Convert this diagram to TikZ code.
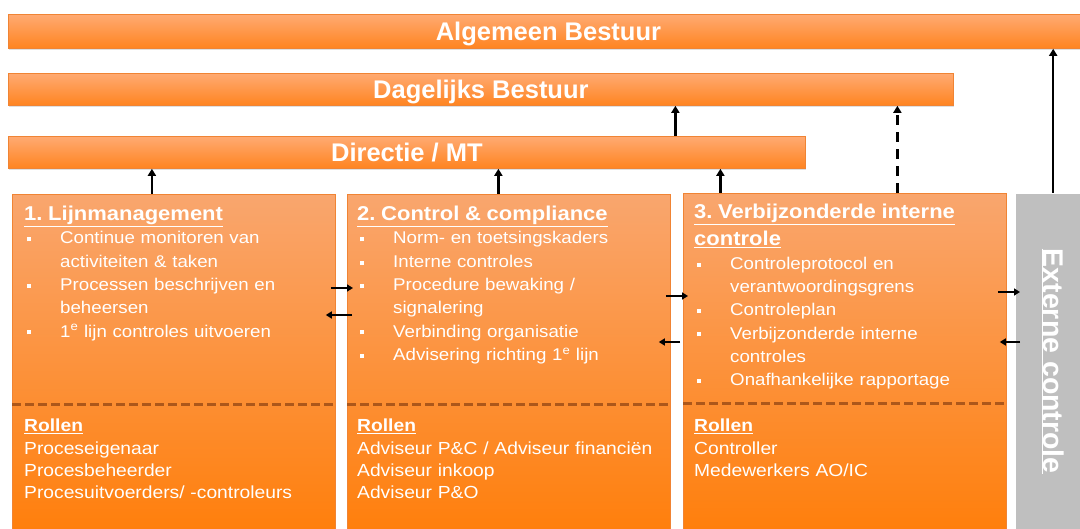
\documentclass[tikz,border=0pt]{standalone}
\usepackage{fontspec}
\setmainfont{Liberation Sans}
\newfontfamily\boxfont[FakeStretch=1.1]{Liberation Sans}
\usetikzlibrary{arrows.meta, positioning, shadows, calc}

\definecolor{barTop}{HTML}{FFAA72}
\definecolor{barBot}{HTML}{FF8420}
\definecolor{boxTop}{HTML}{F9A66E}
\definecolor{boxBot}{HTML}{FF7F0C}
\definecolor{edgeOr}{HTML}{F08434}
\definecolor{sepBrown}{HTML}{A04E16}
\definecolor{extGray}{HTML}{BFBFBF}

% square bullet, continuation line
\newcommand{\bul}{\makebox[36pt][l]{\hspace{3pt}\rule[0.3ex]{4pt}{4pt}}}
\newcommand{\itm}{\\\bul}
\newcommand{\cont}{\\\hspace*{36pt}}

\begin{document}
\frenchspacing
\begin{tikzpicture}[
    x=1pt, y=-1pt,
    bar/.style={rectangle, draw=edgeOr, line width=0.8pt, top color=barTop, bottom color=barBot,
        text=white, font=\fontsize{25.5}{30}\selectfont\bfseries, anchor=north west, inner sep=0pt,
        text depth=0pt, drop shadow={opacity=0.25, shadow xshift=1pt, shadow yshift=-2pt}},
    pillar/.style={rectangle, draw=edgeOr, line width=0.8pt, top color=boxTop, bottom color=boxBot,
        anchor=north west, inner sep=0pt, minimum width=323pt, minimum height=336pt,
        drop shadow={opacity=0.2, shadow xshift=1pt, shadow yshift=-1pt}},
    txt/.style={anchor=north west, inner sep=0pt, text=white, align=left, text width=318pt,
        font=\boxfont\fontsize{17}{23.3}\selectfont},
    sep/.style={draw=sepBrown, line width=3pt, dash pattern=on 9pt off 4pt, opacity=0.85},
    arrow/.style={line width=2.2pt, -{Triangle[length=7pt, width=8pt]}},
    small arrow/.style={line width=1.8pt, -{Triangle[length=6pt, width=7pt]}}
]
\useasboundingbox (0,0) rectangle (1080,529);

% governance bars
\node[bar, minimum width=1080pt, minimum height=34pt] (algemeen) at (8,14) {Algemeen Bestuur};
\node[bar, minimum width=945pt, minimum height=32pt] (dagelijks) at (8,73) {Dagelijks Bestuur};
\node[bar, minimum width=797pt, minimum height=32pt] (directie) at (8,136) {Directie / MT};

% the three lines of defence
\node[pillar] (lijn) at (12,194) {};
\node[pillar] (control) at (347,194) {};
\node[pillar] (verbijz) at (683,193) {};

% external control column
\node[rectangle, fill=extGray, draw=white, anchor=north west, minimum width=67pt, minimum height=336pt,
    inner sep=0pt] (extern) at (1015,193) {};
\node[rotate=-90, text=white, font=\fontsize{28.5}{32}\selectfont\bfseries] (extern-txt) at ([xshift=4pt]extern.center)
    {\underline{Externe controle}};

% dashed split between tasks and roles
\foreach \b in {lijn, control, verbijz}
    \draw[sep] ([yshift=-211pt]\b.north west) -- ([yshift=-211pt]\b.north east);

% texts box 1
\node[txt] (lijn-txt) at ([shift={(12pt,-12pt)}]lijn.north west) {%
    {\fontsize{20}{25}\selectfont\bfseries\underline{1. Lijnmanagement}}
    \itm Continue monitoren van\cont activiteiten \& taken
    \itm Processen beschrijven en\cont beheersen
    \itm 1\textsuperscript{e} lijn controles uitvoeren};
\node[txt, font=\boxfont\fontsize{17.5}{22.3}\selectfont] (lijn-rol) at ([shift={(12pt,-225pt)}]lijn.north west) {%
    \textbf{\underline{Rollen}}\\Proceseigenaar\\Procesbeheerder\\Procesuitvoerders/ -controleurs};

% texts box 2
\node[txt] (control-txt) at ([shift={(10pt,-12pt)}]control.north west) {%
    {\fontsize{20}{25}\selectfont\bfseries\underline{2. Control \& compliance}}
    \itm Norm- en toetsingskaders
    \itm Interne controles
    \itm Procedure bewaking /\cont signalering
    \itm Verbinding organisatie
    \itm Advisering richting 1\textsuperscript{e} lijn};
\node[txt, font=\boxfont\fontsize{17.5}{22.3}\selectfont] (control-rol) at ([shift={(10pt,-225pt)}]control.north west) {%
    \textbf{\underline{Rollen}}\\Adviseur P\&C / Adviseur financiën\\Adviseur inkoop\\Adviseur P\&O};

% texts box 3
\node[txt] (verbijz-txt) at ([shift={(11pt,-11pt)}]verbijz.north west) {%
    {\fontsize{20}{25}\selectfont\bfseries\underline{3. Verbijzonderde interne}\\[4pt]\underline{controle}}
    \itm Controleprotocol en\cont verantwoordingsgrens
    \itm Controleplan
    \itm Verbijzonderde interne\cont controles
    \itm Onafhankelijke rapportage};
\node[txt, font=\boxfont\fontsize{17.5}{22.3}\selectfont] (verbijz-rol) at ([shift={(11pt,-226pt)}]verbijz.north west) {%
    \textbf{\underline{Rollen}}\\Controller\\Medewerkers AO/IC};

% reporting lines
\draw[arrow] ([xshift=-22pt]lijn.north) -- ([xshift=-22pt]lijn.north |- directie.south);
\draw[arrow] ([xshift=-10.5pt]control.north) -- ([xshift=-10.5pt]control.north |- directie.south);
\draw[arrow] ([xshift=-124.5pt]verbijz.north) -- ([xshift=-124.5pt]verbijz.north |- directie.south);
\draw[arrow] ([xshift=268.5pt]directie.north) -- ([xshift=268.5pt]directie.north |- dagelijks.south);
\draw[arrow, dash pattern=on 10pt off 7pt] ([xshift=52.5pt]verbijz.north) -- ([xshift=52.5pt]verbijz.north |- dagelijks.south);
\draw[arrow] ([xshift=4.5pt]extern.north) -- ([xshift=4.5pt]extern.north |- algemeen.south);

% exchange between the lines
\draw[small arrow] ([shift={(-5pt,-94pt)}]lijn.north east) -- ([shift={(6pt,-94pt)}]control.north west);
\draw[small arrow] ([shift={(5pt,-121pt)}]control.north west) -- ([shift={(-10pt,-121pt)}]lijn.north east);
\draw[small arrow] ([shift={(-5pt,-102pt)}]control.north east) -- ([shift={(5pt,-103pt)}]verbijz.north west);
\draw[small arrow] ([shift={(-3pt,-149pt)}]verbijz.north west) -- ([shift={(-12pt,-148pt)}]control.north east);
\draw[small arrow] ([shift={(-9pt,-99pt)}]verbijz.north east) -- ([shift={(5pt,-99pt)}]extern.north west);
\draw[small arrow] ([shift={(5pt,-149pt)}]extern.north west) -- ([shift={(-7pt,-149pt)}]verbijz.north east);

\end{tikzpicture}
\end{document}
